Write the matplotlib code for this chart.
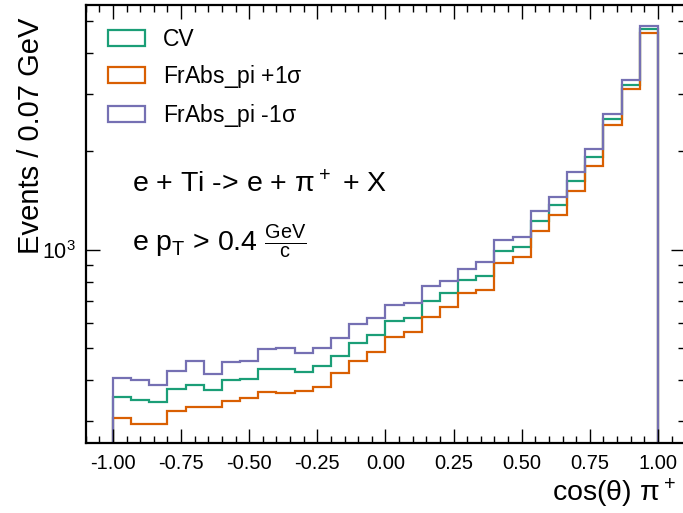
import numpy as np
import matplotlib
matplotlib.use("Agg")
import matplotlib.pyplot as plt
from matplotlib.patches import Patch
from matplotlib.ticker import MultipleLocator, LogLocator, NullFormatter

plt.rcParams['font.family'] = ['Liberation Sans', 'DejaVu Sans']
plt.rcParams['mathtext.fontset'] = 'custom'
plt.rcParams['mathtext.rm'] = 'Liberation Sans'
plt.rcParams['mathtext.it'] = 'Liberation Sans'
plt.rcParams['mathtext.sf'] = 'Liberation Sans'

# 30 bins in cos(theta) of the pi+
bin_edges = np.linspace(-1.0, 1.0, 31)

cv = [356, 349, 342, 375, 387, 373, 400, 404, 432, 432,
      424, 442, 475, 521, 550, 607, 621, 700, 739, 808,
      833, 995, 1023, 1229, 1373, 1629, 1921, 2516, 3197, 4731]
frabs_up = [306, 294, 294, 323, 330, 330, 346, 352, 369, 365,
            371, 380, 422, 458, 486, 541, 563, 625, 671, 740,
            755, 911, 954, 1143, 1279, 1518, 1810, 2412, 3108, 4619]
frabs_down = [407, 400, 387, 427, 459, 418, 454, 459, 498, 502,
              485, 501, 539, 594, 621, 679, 687, 774, 806, 876,
              921, 1073, 1093, 1316, 1455, 1729, 2032, 2605, 3311, 4853]

labels = ['CV', r'FrAbs_pi +1$\sigma$', r'FrAbs_pi -1$\sigma$']
colors = ['#1b9e77', '#d95f02', '#7570b3']

fig = plt.figure(figsize=(6.83, 5.13), dpi=100)
ax = fig.add_axes([0.1255, 0.1365, 0.8777, 0.8538])

for vals, c in zip([cv, frabs_up, frabs_down], colors):
    ax.stairs(vals, bin_edges, color=c, lw=1.6, baseline=1)

ax.set_yscale('log')
ax.set_xlim(-1.1, 1.1)
ax.set_ylim(257, 5610)

ax.xaxis.set_minor_locator(MultipleLocator(0.05))
ax.yaxis.set_major_locator(LogLocator(base=10))
ax.yaxis.set_minor_locator(LogLocator(base=10, subs=np.arange(2, 10)))
ax.yaxis.set_minor_formatter(NullFormatter())
ticks = np.arange(-1.0, 1.01, 0.25)
ax.set_xticks(ticks)
ax.set_xticklabels(['%.2f' % t for t in ticks])

ax.tick_params(which='both', direction='in', top=True, right=True, labelsize=14.5)
ax.tick_params(axis='y', which='major', labelsize=15.5)
ax.tick_params(which='major', length=10, width=1.0)
ax.tick_params(which='minor', length=5, width=1.0)
ax.tick_params(axis='x', which='major', pad=8)
ax.tick_params(axis='y', which='major', pad=7)
for s in ax.spines.values():
    s.set_linewidth(1.6)

ax.set_xlabel(r'cos($\theta$) $\pi^+$', fontsize=20.5, ha='right', x=1.0)
ax.set_ylabel('Events / 0.07 GeV', fontsize=21, ha='right', y=1.0)
ax.yaxis.set_label_coords(-0.068, 0.97)
ax.xaxis.set_label_coords(0.985, -0.076)

handles = [Patch(facecolor='none', edgecolor=c, lw=1.6) for c in colors]
ax.legend(handles, labels, loc='upper left', bbox_to_anchor=(0.022, 0.969),
          borderaxespad=0, frameon=False, fontsize=16.5, handlelength=1.6,
          handleheight=0.7, labelspacing=0.52, handletextpad=0.8)

ax.text(0.077, 0.573, r'e + Ti -> e + $\pi^+$ + X', transform=ax.transAxes,
        fontsize=20.5, va='baseline')
ax.text(0.077, 0.436, r'e $p_T$ > 0.4 $\frac{\rm GeV}{\rm c}$', transform=ax.transAxes,
        fontsize=20.5, va='baseline')

fig.savefig('out.png', dpi=100)
